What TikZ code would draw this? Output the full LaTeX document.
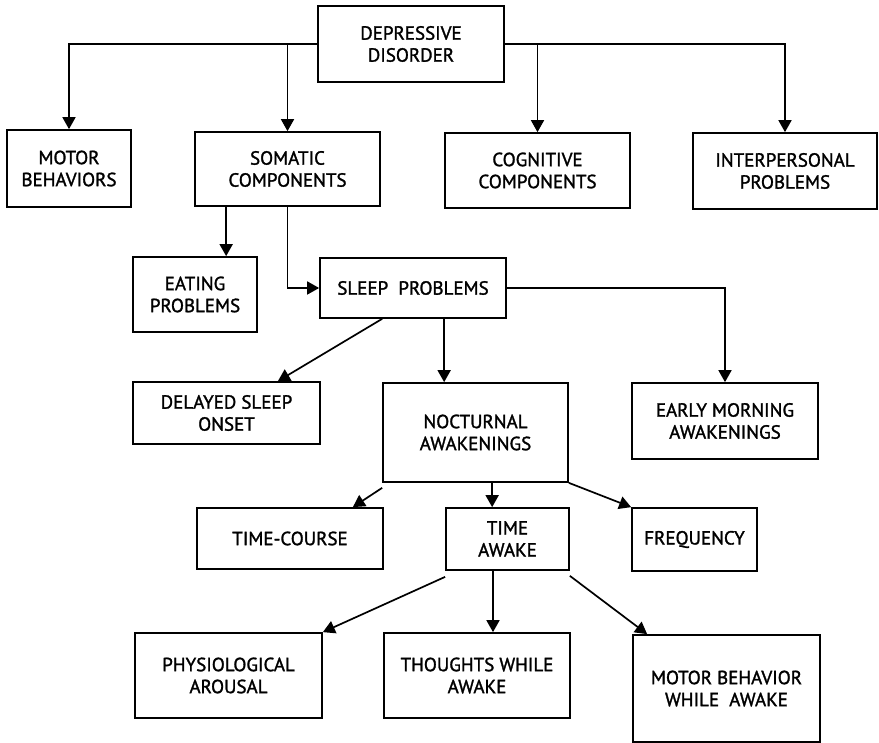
\documentclass[tikz,border=0pt]{standalone}
\usepackage{fontspec}
\setmainfont{PT Sans}
\newfontfamily\boxfont[FakeBold=1.5]{PT Sans}
\usetikzlibrary{arrows.meta}

\begin{document}
\begin{tikzpicture}[x=1pt, y=-1pt,
	box/.style={draw, line width=1.7pt, align=center, inner sep=0pt,
		font=\boxfont\fontsize{19}{22}\selectfont},
	arr/.style={line width=1.7pt, -{Triangle[length=12pt,width=13pt]}}]
	
	% ---- (A) page ----
	\useasboundingbox (0,0) rectangle (879,743);
	
	% ---- (B) boxes: top row ----
	\node[box, minimum width=186pt, minimum height=76pt] (dep) at (411,44) {DEPRESSIVE\\DISORDER};
	\node[box, minimum width=124pt, minimum height=77pt] (motor) at (69,168.5) {MOTOR\\BEHAVIORS};
	\node[box, minimum width=185pt, minimum height=74pt] (somatic) at (287.5,169) {SOMATIC\\COMPONENTS};
	\node[box, minimum width=185pt, minimum height=75pt] (cognitive) at (537.5,170.5) {COGNITIVE\\COMPONENTS};
	\node[box, minimum width=184pt, minimum height=76pt] (interp) at (785,171) {INTERPERSONAL\\PROBLEMS};
	
	% ---- (C) somatic branch ----
	\node[box, minimum width=124pt, minimum height=75pt] (eating) at (195,294.5) {EATING\\PROBLEMS};
	\node[box, minimum width=186pt, minimum height=60pt] (sleep) at (413,288) {SLEEP\ \ PROBLEMS};
	
	% ---- (D) sleep problems ----
	\node[box, minimum width=187pt, minimum height=62pt] (delayed) at (226.5,413) {DELAYED SLEEP\\ONSET};
	\node[box, minimum width=185pt, minimum height=99pt] (noct) at (475.5,432.5) {NOCTURNAL\\AWAKENINGS};
	\node[box, minimum width=186pt, minimum height=76pt] (early) at (725,421) {EARLY MORNING\\AWAKENINGS};
	
	% ---- (E) nocturnal awakenings ----
	\node[box, minimum width=186pt, minimum height=61pt] (tcourse) at (290,538.5) {TIME-COURSE};
	\node[box, minimum width=123pt, minimum height=62pt] (tawake) at (507.5,539) {TIME\\AWAKE};
	\node[box, minimum width=125pt, minimum height=63pt] (freq) at (694.5,539.5) {FREQUENCY};
	
	% ---- (F) time awake ----
	\node[box, minimum width=187pt, minimum height=85pt] (physio) at (228.5,675.5) {PHYSIOLOGICAL\\AROUSAL};
	\node[box, minimum width=186pt, minimum height=85pt] (thoughts) at (477,675.5) {THOUGHTS WHILE\\AWAKE};
	\node[box, minimum width=187pt, minimum height=107pt] (motorw) at (726.5,688.5) {MOTOR BEHAVIOR\\WHILE\ \ AWAKE};
	
	% ---- (G) connectors ----
	\draw[arr] (dep.west) -| (motor.north);
	\draw[arr] (dep.west) -| (somatic.north);
	\draw[arr] (dep.east) -| (cognitive.north);
	\draw[arr] (dep.east) -| (interp.north);
	
	\draw[arr] ([xshift=32pt]somatic.south west) -- ([xshift=32pt]somatic.south west |- eating.north);
	\draw[arr] (somatic.south) |- (sleep.west);
	
	\draw[arr] ([xshift=63pt]sleep.south west) -- ([xshift=-43pt]delayed.north east);
	\draw[arr] ([xshift=62pt]noct.north west |- sleep.south) -- ([xshift=62pt]noct.north west);
	\draw[arr] (sleep.east) -| (early.north);
	
	\draw[arr] ([yshift=-5pt]noct.south west) -- ([xshift=-31pt]tcourse.north east);
	\draw[arr] ([xshift=110pt]noct.south west) -- ([xshift=110pt]noct.south west |- tawake.north);
	\draw[arr] (noct.south east) -- (freq.north west);
	
	\draw[arr] ([yshift=-6pt]tawake.south west) -- (physio.north east);
	\draw[arr] ([xshift=-14.5pt]tawake.south) -- ([xshift=-14.5pt]tawake.south |- thoughts.north);
	\draw[arr] ([yshift=-5pt]tawake.south east) -- ([xshift=15pt]motorw.north west);
	
\end{tikzpicture}
\end{document}
